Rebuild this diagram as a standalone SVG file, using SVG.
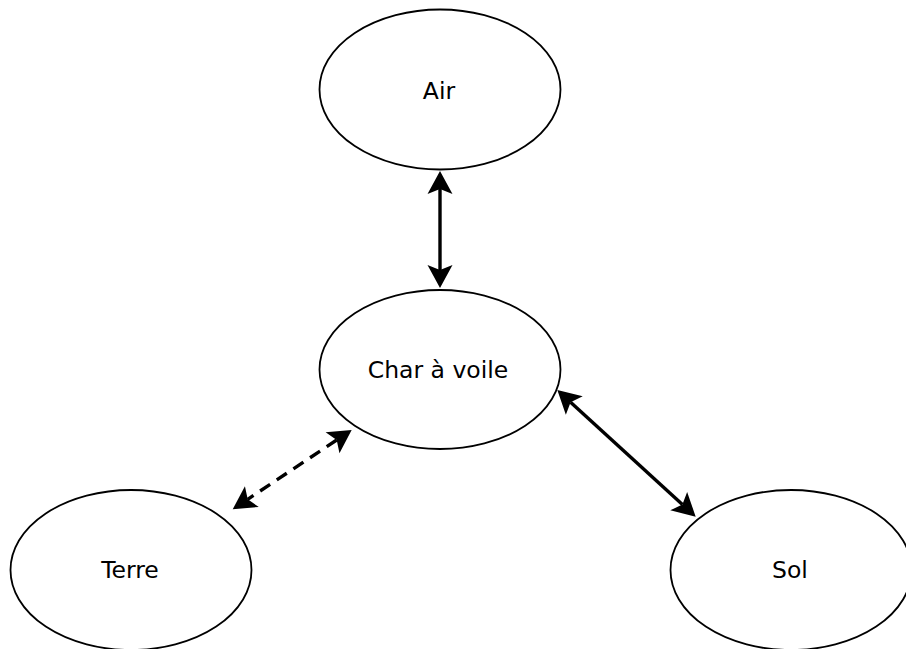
<svg xmlns="http://www.w3.org/2000/svg" width="906" height="649" viewBox="0 0 906 649">
<defs>
<style>
.node ellipse{fill:#fff;stroke:#000;stroke-width:1.8}
.node text{font-family:"DejaVu Sans",sans-serif;font-size:23.5px;fill:#000;text-anchor:middle}
.edge{stroke:#000;stroke-width:3.4;fill:none;marker-start:url(#ah);marker-end:url(#ah)}
.dash{stroke-dasharray:12 8}
</style>
<marker id="ah" markerUnits="userSpaceOnUse" markerWidth="30" markerHeight="30" refX="5" refY="12.5" orient="auto-start-reverse" overflow="visible">
<path d="M0,0 L23,12.5 L0,25 L5,12.5 Z" fill="#000"/>
</marker>
</defs>
<g id="air" class="node"><ellipse cx="440" cy="89.5" rx="120.5" ry="80"/><text x="439" y="99">Air</text></g>
<g id="char" class="node"><ellipse cx="440" cy="369.5" rx="120.5" ry="79.5"/><text x="438" y="378">Char à voile</text></g>
<g id="terre" class="node"><ellipse cx="131" cy="570" rx="120.5" ry="80"/><text x="130" y="578">Terre</text></g>
<g id="sol" class="node"><ellipse cx="791" cy="570" rx="120.5" ry="80"/><text x="790" y="578">Sol</text></g>
<g id="connectors">
<line class="edge" x1="440" y1="189" x2="440" y2="270"/>
<line class="edge dash" x1="336.7" y1="440" x2="247.7" y2="499.3"/>
<line class="edge" x1="570.6" y1="402.2" x2="682.4" y2="504.5"/>
</g>
</svg>
